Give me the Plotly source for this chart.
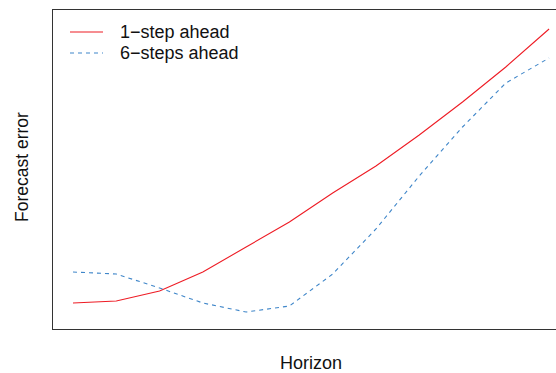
import plotly.graph_objects as go

# Forecast horizons and the mean forecast error at each horizon
horizon = list(range(1, 13))
err_1step = [0.26, 0.28, 0.38, 0.57, 0.82, 1.07, 1.36, 1.63, 1.94, 2.27, 2.62, 3.00]
err_6step = [0.57, 0.55, 0.41, 0.26, 0.17, 0.23, 0.55, 1.00, 1.53, 2.02, 2.46, 2.71]

series_names = ["1\u2212step ahead", "6\u2212steps ahead"]
series_colors = ["#ee1c25", "#3f86c9"]
series_dash = ["solid", "4px,4px"]

W, H = 556, 373
ML, MR, MT, MB = 53, 0, 10, 44
FONT = "Liberation Sans, Arial, Helvetica, sans-serif"

fig = go.Figure()
for name, vals, col, dash in zip(series_names, [err_1step, err_6step], series_colors, series_dash):
    fig.add_trace(go.Scatter(x=horizon, y=vals, mode="lines", name=name,
                             line=dict(color=col, width=1.1, dash=dash),
                             showlegend=False))

# pixel -> paper helpers for the legend and axis titles
pw, ph = W - ML - MR, H - MT - MB
def px_x(p):
    return (p - ML) / pw
def px_y(p):
    return (H - MB - p) / ph

# Hand-drawn legend in the top-left corner
legend_rows = [32, 53]
for name, col, dash, row in zip(series_names, series_colors, series_dash, legend_rows):
    fig.add_shape(type="line", xref="paper", yref="paper",
                  x0=px_x(70), x1=px_x(103), y0=px_y(row), y1=px_y(row),
                  line=dict(color=col, width=1.1, dash=dash))
    fig.add_annotation(text=name, xref="paper", yref="paper",
                       x=px_x(119), y=px_y(row), xanchor="left", yanchor="middle",
                       showarrow=False, borderpad=0, font=dict(size=18, color="#111"))

# Axis titles
fig.add_annotation(text="Horizon", xref="paper", yref="paper",
                   x=px_x(311), y=px_y(363), xanchor="center", yanchor="middle",
                   showarrow=False, borderpad=0, font=dict(size=18, color="#111"))
fig.add_annotation(text="Forecast error", xref="paper", yref="paper",
                   x=px_x(22), y=px_y(167), xanchor="center", yanchor="middle",
                   textangle=-90, showarrow=False, borderpad=0,
                   font=dict(size=17.5, color="#111"))

axis_common = dict(showgrid=False, zeroline=False, showticklabels=False, ticks="",
                   showline=True, linecolor="#333", linewidth=1.3)

fig.update_layout(
    width=W, height=H, autosize=False,
    margin=dict(l=ML, r=MR, t=MT, b=MB),
    paper_bgcolor="white", plot_bgcolor="white",
    font=dict(family=FONT, size=18, color="#111"),
    xaxis=dict(range=[0.538, 12.16], mirror=True, **axis_common),
    yaxis=dict(range=[0, 3.19], mirror=False, **axis_common),
)

fig.write_html("out.html")
